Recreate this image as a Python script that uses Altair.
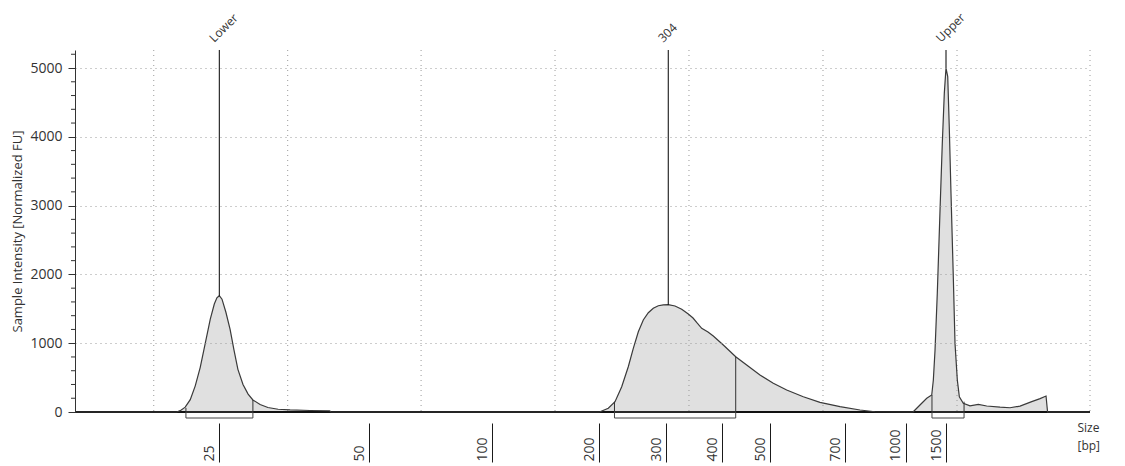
import altair as alt
import pandas as pd

FONT = "Open Sans"
TXT = "#333333"

# ---- trace (size in bp, intensity in normalized FU) ----
size_bp = [1, 17.9, 18.5, 19.33, 20.17, 21.0, 21.83, 22.67, 23.5, 24.17, 24.6, 25.0, 25.45, 26.1,
           26.8, 27.45, 28.1, 28.95, 29.8, 30.6, 31.8, 33.1, 34.8, 36.8, 40.1, 43.4, 43.6,
           200, 201.5, 213.9, 223.9, 233.9, 243.7, 251.2, 258.7, 266.1, 273.6, 281.0, 288.5, 296,
           304, 316.0, 327.9, 339.6, 348, 355.2, 363.4, 374.6, 384.0, 402.1, 428.1, 451.1, 479.0,
           508.8, 544.5, 588.8, 633.3, 686.7, 774.1, 848.3,
           1090, 1094, 1177, 1261, 1323, 1343, 1364, 1392, 1426, 1454, 1479, 1500, 1518, 1534,
           1552, 1576, 1594, 1618, 1639, 1680, 1750, 1837, 1924, 2063, 2167, 2271, 2393, 2480,
           2542, 2558, 3000]
intensity = [0, 0, 20, 70, 180, 380, 650, 1000, 1350, 1570, 1660, 1690, 1640, 1450,
             1200, 900, 620, 400, 260, 175, 110, 65, 40, 30, 22, 18, 0,
             0, 4, 54, 150, 368, 658, 926, 1167, 1337, 1443, 1507, 1545, 1558,
             1560, 1541, 1493, 1424, 1366, 1294, 1217, 1163, 1105, 974, 804, 683, 538,
             417, 320, 222, 141, 77, 29, 4,
             0, 4, 102, 199, 247, 465, 901, 1725, 2936, 3905, 4632, 5000, 4874, 4147,
             3179, 1967, 994, 465, 222, 126, 90, 110, 87, 70, 62, 85, 150, 195,
             232, 0, 0]

# ---- peaks ----
marker_names = ["Lower", "304", "Upper"]
marker_size = [25, 304, 1500]
marker_height = [1690, 1560, 5000]

# ---- integration regions ----
region_start = [19.45, 223.1, 1326]
region_end = [30.6, 428.1, 1688]
boundary_size = [19.45, 30.6, 223.1, 428.1, 1326, 1688]
boundary_height = [60, 175, 150, 804, 247, 150]

# ---- axis ticks / grid (sizes in bp) ----
tick_sizes = [25, 50, 100, 200, 300, 400, 500, 700, 1000, 1500]
grid_sizes = [14.1, 36.4, 71.1, 158.9, 340.8, 641.3, 1614.6, 3000]
y_major = [0, 1000, 2000, 3000, 4000, 5000]
y_minor = [v for v in range(200, 5201, 200) if v % 1000 != 0]

trace = pd.DataFrame({"size": size_bp, "fu": intensity})
markers = pd.DataFrame({"name": marker_names, "size": marker_size, "h": marker_height})
regions = pd.DataFrame({"start": region_start, "end": region_end})
bounds = pd.DataFrame({"b": boundary_size, "h": boundary_height})
grid = pd.DataFrame({"g": grid_sizes})
minor = pd.DataFrame({"v": y_minor})

W, H = 1015, 362

x_scale = alt.Scale(domain=[1, 25, 50, 100, 200, 300, 400, 500, 700, 1000, 1500, 3000],
                    range=[0, 144.3, 294.3, 417, 524, 591, 647.3, 695, 770, 830.7, 871, W],
                    nice=False, zero=False)
y_scale = alt.Scale(domain=[0, 5262], nice=False, zero=False)

x_axis = alt.Axis(values=tick_sizes, format="d", orient="bottom", offset=11, domain=False, grid=False,
                  tickSize=39, tickColor="#1a1a1a", tickWidth=1,
                  labelAngle=270, labelAlign="left", labelBaseline="middle",
                  labelOffset=-10, labelPadding=-1, labelFont=FONT, labelFontSize=14,
                  labelColor=TXT, labelOverlap=False, labelFlush=False,
                  title=["Size", "[bp]"], titleX=1002, titleY=-1, titleAlign="left",
                  titleBaseline="top", titleAngle=0, titleFont=FONT, titleFontSize=12,
                  titleFontWeight="normal", titleLineHeight=18, titleColor=TXT)

y_axis = alt.Axis(values=y_major, format="d", tickSize=7,
                  tickColor="#333333", domainColor="#333333",
                  grid=True, gridDash=[1, 4],
                  gridColor={"condition": {"test": "datum.value > 0", "value": "#9a9a9a"},
                             "value": "rgba(0,0,0,0)"},
                  labelPadding=6, labelFont=FONT, labelFontSize=14, labelColor=TXT,
                  title="Sample Intensity [Normalized FU]", titleX=-58, titleY=H / 2,
                  titleAngle=270, titleAlign="center", titleBaseline="middle",
                  titleFont=FONT, titleFontSize=13, titleFontWeight="normal", titleColor=TXT,
                  zindex=1)


def X(field):
    return alt.X(field, type="quantitative", scale=x_scale, axis=x_axis)


def Y(field):
    return alt.Y(field, type="quantitative", scale=y_scale, axis=y_axis)


area = alt.Chart(trace).mark_area(color="#e0e0e0").encode(x=X("size"), y=Y("fu"))

vgrid = alt.Chart(grid).mark_rule(color="#9a9a9a", strokeDash=[1, 4], strokeWidth=1).encode(
    x=X("g"))

minor_ticks = alt.Chart(minor).mark_rule(color="#333333", strokeWidth=1).encode(
    y=Y("v"), x=alt.value(-4), x2=alt.value(0))

baseline = alt.Chart(markers).transform_aggregate(n="count()").transform_calculate(zero="0").mark_rule(
    color="#111111", strokeWidth=2).encode(y=Y("zero"))

line = alt.Chart(trace).mark_line(color="#3a3a3a", strokeWidth=1.2).encode(
    x=X("size"), y=Y("fu"))

brackets = alt.Chart(regions).transform_calculate(zero="0").mark_rect(
    fillOpacity=0, stroke="#444444", strokeWidth=1, y2Offset=6).encode(
    x=X("start"), x2=alt.X2("end"), y=Y("zero"), y2=alt.Y2("zero"))

bound_rules = alt.Chart(bounds).transform_calculate(zero="0").mark_rule(
    color="#333333", strokeWidth=1).encode(x=X("b"), y=Y("zero"), y2=alt.Y2("h"))

peak_rules = alt.Chart(markers).mark_rule(color="#000000", strokeWidth=1).encode(
    x=X("size"), y=Y("h"), y2=alt.value(0))

peak_text = alt.Chart(markers).mark_text(angle=315, align="left", baseline="alphabetic",
                                          xOffset=-5, font=FONT, fontSize=12, color=TXT).encode(
    x=X("size"), y=alt.value(-7), text="name:N")

chart = alt.layer(area, vgrid, minor_ticks, baseline, line, brackets, bound_rules,
                  peak_rules, peak_text).properties(
    width=W, height=H,
    autosize=alt.AutoSizeParams(type="none"),
    padding={"left": 67, "top": 42, "right": 27, "bottom": 54},
    background="white",
).configure_view(stroke="transparent")

chart.save("out.html", embed_options={"renderer": "svg", "actions": False})
